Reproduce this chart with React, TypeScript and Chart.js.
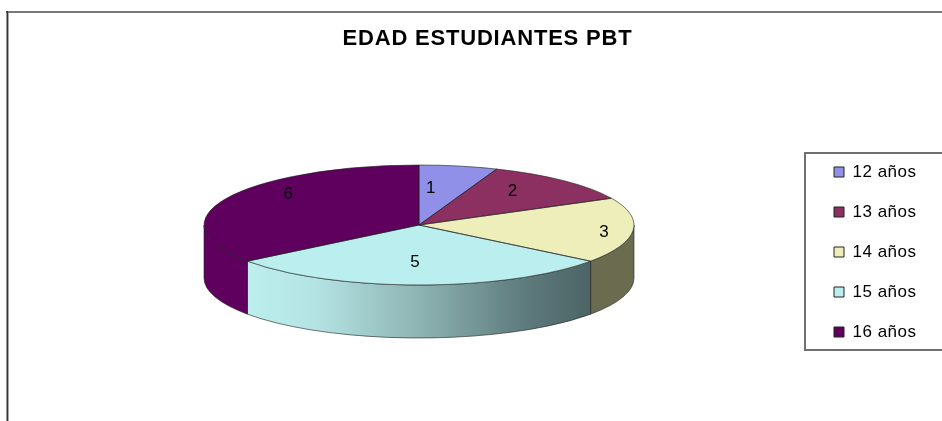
import React, { useEffect, useRef } from "react";
import { Chart, registerables } from "chart.js";

Chart.register(...registerables);

const categories = ["12 años", "13 años", "14 años", "15 años", "16 años"];
const values = [1, 2, 3, 5, 6];
const titleText = "EDAD ESTUDIANTES PBT";

const topColors = ["#9090E8", "#8B3060", "#EEEEBB", "#BBEEEE", "#5F005F"];
const wallColors = ["#55557F", "#5A1F3E", "#6B6B50", "#5F7C7E", "#5F005F"];
const EDGE = "rgba(30,30,30,0.75)";

const RX = 215;
const RY = 60;
const DEPTH = 53;
const CENTER_X = 419;
const CENTER_Y = 225;
const labelNudges = [[-16, 5], [-8, -3], [35, 3], [-4, -5], [4, -12]];

const arcProps = (el: any) =>
  el.getProps(["x", "y", "startAngle", "endAngle", "outerRadius"], true);

const withSpacing = (box: any, spacing: string) => {
  if (box.__spaced) return;
  box.__spaced = true;
  const original = box.draw;
  box.draw = function (...args: any[]) {
    const c = box.ctx;
    c.letterSpacing = spacing;
    original.apply(box, args);
    c.letterSpacing = "0px";
  };
};

const pie3d = {
  id: "pie3d",
  afterLayout(chart: any) {
    // Pie centre is controlled by the chart area; legend and title are placed next to it.
    const side = 392;
    chart.chartArea = {
      left: CENTER_X - side / 2,
      right: CENTER_X + side / 2,
      top: CENTER_Y - side / 2,
      bottom: CENTER_Y + side / 2,
      width: side,
      height: side,
    };
    const lg = chart.legend;
    const w = lg.width;
    const h = lg.height;
    lg.left = 811;
    lg.right = lg.left + w;
    lg.top = 140.5;
    lg.bottom = lg.top + h;
    const t = chart.titleBlock;
    t.left = 16.5;
    t.right = 958.5;
    withSpacing(t, "0.8px");
    withSpacing(lg, "0.5px");
  },
  beforeDraw(chart: any) {
    const { ctx, width, height } = chart;
    ctx.save();
    ctx.fillStyle = "#ffffff";
    ctx.fillRect(0, 0, width, height);
    // outer frame
    ctx.fillStyle = "#7a7a7a";
    ctx.fillRect(6, 11, width - 6, 2);
    ctx.fillStyle = "#aaaaaa";
    ctx.fillRect(8, 13, 1, height - 13);
    ctx.fillStyle = "#333333";
    ctx.fillRect(6.5, 11, 1.5, height - 11);
    // legend frame
    ctx.strokeStyle = "#707070";
    ctx.lineWidth = 2;
    ctx.strokeRect(805, 153, 150, 197);
    ctx.restore();
  },
  beforeDatasetsDraw(chart: any) {
    const { ctx } = chart;
    const meta = chart.getDatasetMeta(0);
    ctx.save();
    meta.data.forEach((el: any, i: number) => {
      const p = arcProps(el);
      const t0 = Math.max(p.startAngle, 0);
      const t1 = Math.min(p.endAngle, Math.PI);
      if (t1 <= t0) return;
      const rx = p.outerRadius;
      const ry = (rx * RY) / RX;
      ctx.beginPath();
      ctx.ellipse(p.x, p.y, rx, ry, 0, t0, t1);
      ctx.ellipse(p.x, p.y + DEPTH, rx, ry, 0, t1, t0, true);
      ctx.closePath();
      if (i === 3) {
        const xL = p.x + rx * Math.cos(t1);
        const xR = p.x + rx * Math.cos(t0);
        const g = ctx.createLinearGradient(xL, 0, xR, 0);
        g.addColorStop(0, "#BDEFEF");
        g.addColorStop(0.2, "#B4E3E3");
        g.addColorStop(0.5, "#8EB3B3");
        g.addColorStop(0.8, "#5F7C7E");
        g.addColorStop(1, "#4C6466");
        ctx.fillStyle = g;
      } else {
        ctx.fillStyle = wallColors[i];
      }
      ctx.fill();
      ctx.strokeStyle = EDGE;
      ctx.lineWidth = 0.8;
      ctx.stroke();
    });
    ctx.restore();
  },
  beforeDatasetDraw(chart: any) {
    const { ctx } = chart;
    ctx.save();
    ctx.translate(CENTER_X, CENTER_Y);
    ctx.scale(1, RY / RX);
    ctx.translate(-CENTER_X, -CENTER_Y);
  },
  afterDatasetDraw(chart: any) {
    const { ctx } = chart;
    ctx.restore();
    const meta = chart.getDatasetMeta(0);
    ctx.save();
    ctx.strokeStyle = EDGE;
    ctx.lineWidth = 0.8;
    meta.data.forEach((el: any) => {
      const p = arcProps(el);
      const rx = p.outerRadius;
      const ry = (rx * RY) / RX;
      ctx.beginPath();
      ctx.moveTo(p.x, p.y);
      ctx.ellipse(p.x, p.y, rx, ry, 0, p.startAngle, p.endAngle);
      ctx.closePath();
      ctx.stroke();
    });
    ctx.restore();
  },
  afterDatasetsDraw(chart: any) {
    const { ctx } = chart;
    const meta = chart.getDatasetMeta(0);
    ctx.save();
    ctx.fillStyle = "#000000";
    ctx.font = '17px "Liberation Sans"';
    ctx.textAlign = "center";
    ctx.textBaseline = "middle";
    meta.data.forEach((el: any, i: number) => {
      const p = arcProps(el);
      const mid = (p.startAngle + p.endAngle) / 2;
      const x = p.x + 0.7 * p.outerRadius * Math.cos(mid) + labelNudges[i][0];
      const y = p.y + 0.7 * RY * Math.sin(mid) + labelNudges[i][1];
      ctx.fillText(String(chart.data.datasets[0].data[i]), x, y);
    });
    ctx.restore();
  },
};

export default function App() {
  const ref = useRef<HTMLCanvasElement | null>(null);
  useEffect(() => {
    const chart = new Chart(ref.current as HTMLCanvasElement, {
      type: "pie",
      data: {
        labels: categories,
        datasets: [
          {
            data: values,
            backgroundColor: topColors,
            borderWidth: 0,
            radius: RX,
            clip: false,
          } as any,
        ],
      },
      options: {
        responsive: false,
        animation: false,
        layout: { padding: 0 },
        plugins: {
          title: {
            display: true,
            text: titleText,
            color: "#000000",
            font: { family: '"Liberation Sans"', size: 22, weight: "bold" },
            padding: { top: 25.8, bottom: 0 },
          },
          legend: {
            display: true,
            position: "right",
            align: "start",
            labels: {
              boxWidth: 10,
              boxHeight: 10,
              padding: 23,
              color: "#222222",
              font: { family: '"Liberation Sans"', size: 17 },
              generateLabels: (c: any) =>
                c.data.labels.map((text: string, i: number) => ({
                  text,
                  fillStyle: topColors[i],
                  strokeStyle: "#222222",
                  lineWidth: 1,
                  hidden: false,
                  index: i,
                })),
            },
          },
          tooltip: { enabled: false },
        },
      } as any,
      plugins: [pie3d as any],
    });
    return () => chart.destroy();
  }, []);
  return (
    <div style={{ position: "fixed", left: 0, top: 0, width: 942, height: 421, overflow: "hidden", background: "#fff" }}>
      <canvas ref={ref} width={942} height={421} style={{ display: "block", width: 942, height: 421, filter: "blur(0.5px)" }} />
    </div>
  );
}
